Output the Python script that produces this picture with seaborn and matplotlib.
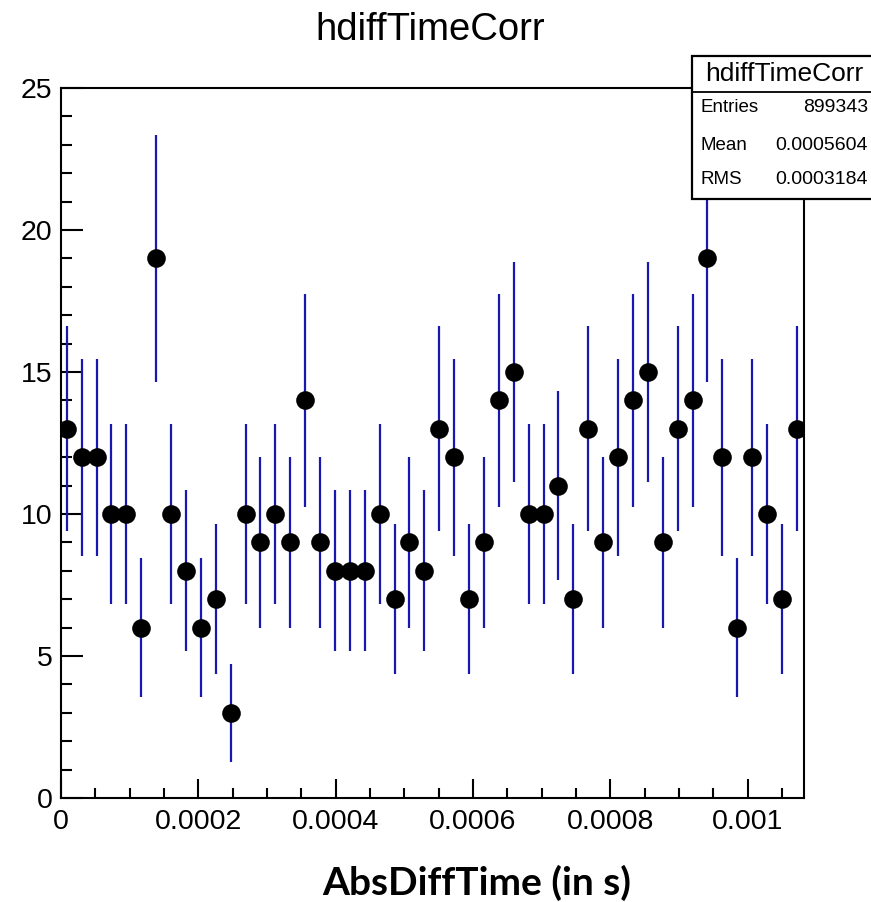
import numpy as np
import pandas as pd
import matplotlib
matplotlib.use("Agg")
import matplotlib.pyplot as plt
import seaborn as sns
from matplotlib.ticker import MultipleLocator, FixedLocator, FixedFormatter
from matplotlib.patches import Rectangle
from matplotlib.lines import Line2D

# ---- data ----
counts = [13, 12, 12, 10, 10, 6, 19, 10, 8, 6, 7, 3, 10, 9, 10, 9, 14, 9, 8, 8,
          8, 10, 7, 9, 8, 13, 12, 7, 9, 14, 15, 10, 10, 11, 7, 13, 9, 12, 14, 15,
          9, 13, 14, 19, 12, 6, 12, 10, 7, 13]
bin_low = -2.5e-6
bin_width = 2.17e-5
x_tick_values = [0, 0.0002, 0.0004, 0.0006, 0.0008, 0.001]
x_tick_labels = ["0", "0.0002", "0.0004", "0.0006", "0.0008", "0.001"]
y_tick_values = [0, 5, 10, 15, 20, 25]
title = "hdiffTimeCorr"
stats_rows = [("Entries", "899343"), ("Mean", "0.0005604"), ("RMS", "0.0003184")]
xlabel = "AbsDiffTime (in s)"

centers = bin_low + bin_width * (np.arange(len(counts)) + 0.5)
df = pd.DataFrame({"x": centers, "n": counts})
df["err"] = np.sqrt(df["n"])

sns.set_theme(style="white")
plt.rcParams["font.family"] = ["Liberation Sans", "DejaVu Sans"]

W, H = 871, 902
fig = plt.figure(figsize=(W / 100, H / 100), dpi=100)
ax = fig.add_axes([61 / W, 1 - 798 / H, (804 - 61) / W, (798 - 88) / H])

ax.vlines(df["x"], df["n"] - df["err"], df["n"] + df["err"],
          color="#1818b0", linewidth=1.6, zorder=2)
sns.scatterplot(data=df, x="x", y="n", ax=ax, color="black", s=180,
                marker="o", edgecolor="black", linewidth=0, zorder=3,
                legend=False)

ax.set_xlim(0, 0.001082)
ax.set_ylim(0, 25)
ax.xaxis.set_major_locator(FixedLocator(x_tick_values))
ax.xaxis.set_major_formatter(FixedFormatter(x_tick_labels))
ax.xaxis.set_minor_locator(MultipleLocator(0.00005))
ax.yaxis.set_major_locator(FixedLocator(y_tick_values))
ax.yaxis.set_minor_locator(MultipleLocator(1))
ax.set_xlabel("")
ax.set_ylabel("")

ax.tick_params(axis="both", which="both", direction="in", color="black",
               bottom=True, left=True, top=False, right=False, labelsize=20.5,
               labelcolor="black")
ax.tick_params(axis="x", which="major", length=14, width=1.5, pad=8)
ax.tick_params(axis="x", which="minor", length=7, width=1.5)
ax.tick_params(axis="y", which="major", length=16, width=1.5, pad=6)
ax.tick_params(axis="y", which="minor", length=8, width=1.5)
for s in ax.spines.values():
    s.set_visible(True)
    s.set_color("black")
    s.set_linewidth(1.5)

fig.text(430 / W, 1 - 30 / H, title, ha="center", va="center", fontsize=27.5,
         color="black")

# stats box
bx0, by0, by1 = 692 / W, 1 - 199 / H, 1 - 56 / H
box = Rectangle((bx0, by0), 1.05 - bx0, by1 - by0, transform=fig.transFigure,
                facecolor="white", edgecolor="black", linewidth=1.6, zorder=10,
                clip_on=False)
fig.patches.append(box)
fig.lines.append(Line2D([bx0, 1.05], [1 - 92 / H, 1 - 92 / H],
                        transform=fig.transFigure, color="black", linewidth=1.3,
                        zorder=11))
fig.text(784 / W, 1 - 74 / H, title, ha="center", va="center", fontsize=19,
         color="black", zorder=12)
row_y = [108, 145, 180]
for (lab, val), yy in zip(stats_rows, row_y):
    fig.text(700 / W, 1 - yy / H, lab, ha="left", va="center", fontsize=13.5,
             color="black", zorder=12)
    fig.text(868 / W, 1 - yy / H, val, ha="right", va="center", fontsize=14,
             color="black", zorder=12)

fig.text(477 / W, 1 - 883 / H, xlabel, ha="center", va="center", fontsize=28,
         fontweight="bold", family=["Lato", "DejaVu Sans"], color="black")

fig.savefig("out.png", dpi=100, facecolor="white")
